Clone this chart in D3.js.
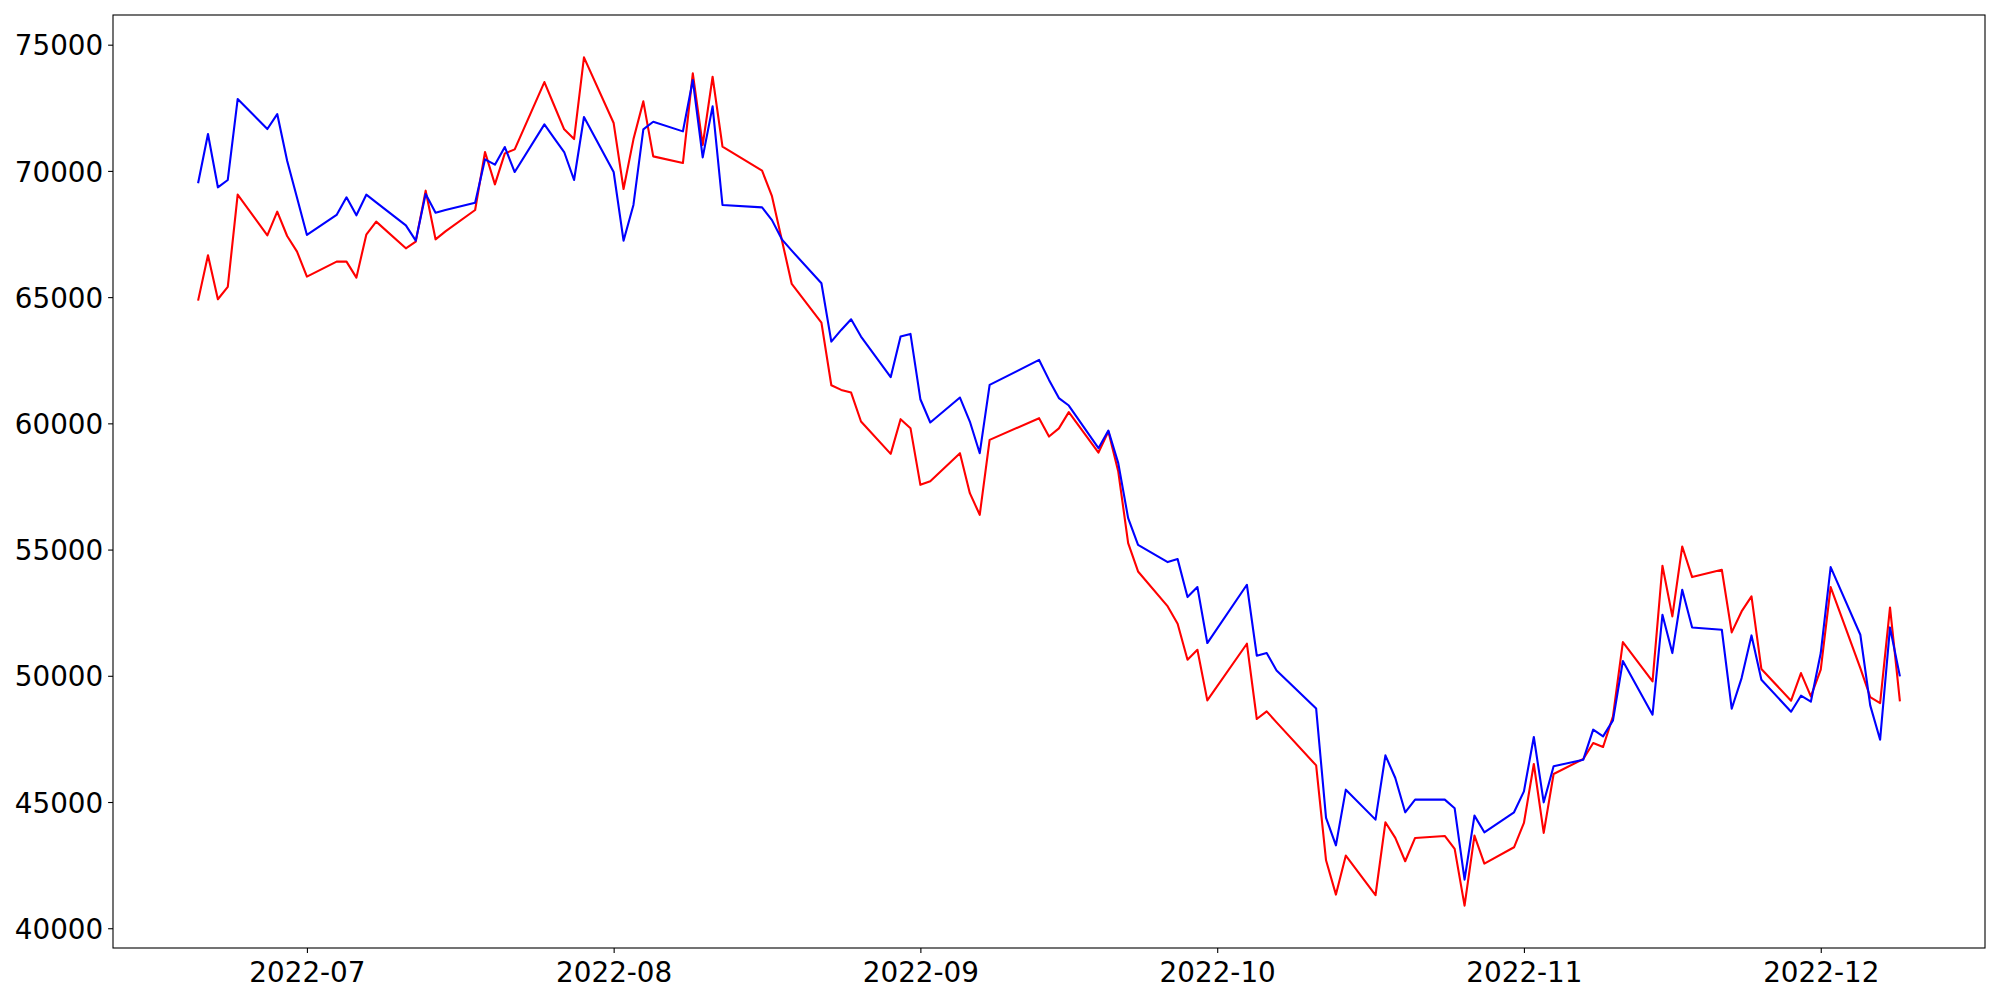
<!DOCTYPE html>
<html>
<head>
<meta charset="utf-8">
<script src="https://cdn.jsdelivr.net/npm/d3@7"></script>
<style>
  html, body { margin: 0; padding: 0; background: #fff; }
  svg { display: block; }
</style>
</head>
<body>
<svg id="chart" width="2000" height="1000"></svg>
<script>
// Trading dates (KRX calendar)
const dates = [
  "2022-06-20","2022-06-21","2022-06-22","2022-06-23","2022-06-24","2022-06-27","2022-06-28","2022-06-29","2022-06-30",
  "2022-07-01","2022-07-04","2022-07-05","2022-07-06","2022-07-07","2022-07-08","2022-07-11","2022-07-12","2022-07-13","2022-07-14","2022-07-15",
  "2022-07-18","2022-07-19","2022-07-20","2022-07-21","2022-07-22","2022-07-25","2022-07-26","2022-07-27","2022-07-28","2022-07-29",
  "2022-08-01","2022-08-02","2022-08-03","2022-08-04","2022-08-05","2022-08-08","2022-08-09","2022-08-10","2022-08-11","2022-08-12",
  "2022-08-16","2022-08-17","2022-08-18","2022-08-19","2022-08-22","2022-08-23","2022-08-24","2022-08-25","2022-08-26","2022-08-29","2022-08-30","2022-08-31",
  "2022-09-01","2022-09-02","2022-09-05","2022-09-06","2022-09-07","2022-09-08","2022-09-13","2022-09-14","2022-09-15","2022-09-16",
  "2022-09-19","2022-09-20","2022-09-21","2022-09-22","2022-09-23","2022-09-26","2022-09-27","2022-09-28","2022-09-29","2022-09-30",
  "2022-10-04","2022-10-05","2022-10-06","2022-10-07","2022-10-11","2022-10-12","2022-10-13","2022-10-14",
  "2022-10-17","2022-10-18","2022-10-19","2022-10-20","2022-10-21","2022-10-24","2022-10-25","2022-10-26","2022-10-27","2022-10-28","2022-10-31",
  "2022-11-01","2022-11-02","2022-11-03","2022-11-04","2022-11-07","2022-11-08","2022-11-09","2022-11-10","2022-11-11",
  "2022-11-14","2022-11-15","2022-11-16","2022-11-17","2022-11-18","2022-11-21","2022-11-22","2022-11-23","2022-11-24","2022-11-25",
  "2022-11-28","2022-11-29","2022-11-30","2022-12-01","2022-12-02","2022-12-05","2022-12-06","2022-12-07","2022-12-08","2022-12-09"
];

// Blue series
const blueValues = [
  69509, 71461, 69350, 69640, 72846, 71659, 72252, 70404, 68939,
  67462, 68254, 68954, 68241, 69058, 68756, 67845, 67237, 69085, 68346, 68452,
  68742, 70458, 70246, 70946, 69956, 71844, 71289, 70748, 69639, 72134,
  69956, 67237, 68650, 71646, 71949, 71566, 73599, 70537, 72556, 68650,
  68557, 68050, 67290, 66841, 65548, 63239, 63701, 64123, 63437, 61827, 63437, 63543,
  60956, 60033, 61022, 60072, 58818, 61523, 62513, 61721, 61000, 60706,
  59017, 59715, 58423, 56245, 55189, 54503, 54622, 53117, 53513, 51297,
  53606, 50795, 50900, 50213, 48700, 44369, 43285, 45489,
  44302, 46849, 45952, 44592, 45094, 45094, 44751, 41926, 44460, 43801, 44592,
  45423, 47575, 44988, 46413, 46677, 47865, 47601, 48234, 50584,
  48459, 52418, 50900, 53408, 51916, 51824, 48696, 49910, 51599, 49844,
  48577, 49211, 48973, 50900, 54306, 51626, 48828, 47469, 51916, 49976
];

// Red series
const redValues = [
  64862, 66657, 64915, 65403, 69059, 67449, 68386, 67422, 66802,
  65812, 66406, 66406, 65773, 67475, 67990, 66934, 67198, 69217, 67290, 67607,
  68452, 70748, 69468, 70695, 70854, 73519, 72582, 71646, 71263, 74496,
  71896, 69283, 71250, 72754, 70576, 70312, 73862, 71025, 73730, 70959,
  70009, 69000, 67264, 65522, 63991, 61510, 61325, 61220, 60072, 58792, 60165, 59809,
  57565, 57710, 58818, 57235, 56377, 59346, 60204, 59478, 59800, 60443,
  58843, 59676, 58092, 55255, 54133, 52748, 52062, 50636, 51032, 49026,
  51270, 48288, 48590, 48155, 46450, 42691, 41333, 42878,
  41307, 44197, 43577, 42653, 43577, 43656, 43141, 40897, 43669, 42560, 43207,
  44170, 46506, 43775, 46110, 46704, 47338, 47179, 48392, 51336,
  49777, 54358, 52352, 55123, 53910, 54200, 51718, 52549, 53143, 50268,
  49013, 50109, 49185, 50240, 53514, 50307, 49159, 48921, 52707, 48986
];

const yTickValues = [40000, 45000, 50000, 55000, 60000, 65000, 70000, 75000];

// ---- layout ----
const W = 2000, H = 1000;
const margin = { left: 113, top: 15, right: 15, bottom: 52 };
const x0 = margin.left, x1 = W - margin.right;
const y0 = margin.top, y1 = H - margin.bottom;
const fontSize = 27.8;
const tickLen = 4.9, tickPad = 4.9;

const parse = d3.timeParse("%Y-%m-%d");
const times = dates.map(parse);

// matplotlib-like 5% margins
const tExt = d3.extent(times);
const tPad = (tExt[1] - tExt[0]) * 0.05;
const x = d3.scaleTime()
  .domain([new Date(+tExt[0] - tPad), new Date(+tExt[1] + tPad)])
  .range([x0, x1]);

const allV = blueValues.concat(redValues);
const vExt = d3.extent(allV);
const vPad = (vExt[1] - vExt[0]) * 0.05;
const y = d3.scaleLinear()
  .domain([vExt[0] - vPad, vExt[1] + vPad])
  .range([y1, y0]);

const svg = d3.select("#chart");
svg.append("rect").attr("width", W).attr("height", H).attr("fill", "#fff");

const line = d3.line()
  .x((d, i) => x(times[i]))
  .y(d => y(d));

const plot = svg.append("g");
plot.append("path").datum(redValues)
  .attr("d", line).attr("fill", "none")
  .attr("stroke", "#ff0000").attr("stroke-width", 2.1)
  .attr("stroke-linejoin", "round").attr("stroke-linecap", "butt");
plot.append("path").datum(blueValues)
  .attr("d", line).attr("fill", "none")
  .attr("stroke", "#0000ff").attr("stroke-width", 2.1)
  .attr("stroke-linejoin", "round").attr("stroke-linecap", "butt");

// X axis
const xAxis = d3.axisBottom(x)
  .ticks(d3.timeMonth.every(1))
  .tickFormat(d3.timeFormat("%Y-%m"))
  .tickSize(tickLen).tickSizeOuter(0).tickPadding(tickPad);
const gx = svg.append("g").attr("transform", `translate(0,${y1})`).call(xAxis);
gx.select(".domain").remove();
gx.selectAll(".tick line").attr("stroke", "#000").attr("stroke-width", 1.1);
gx.selectAll(".tick text")
  .attr("font-family", "DejaVu Sans").attr("font-size", fontSize)
  .attr("fill", "#000").attr("dy", null).attr("y", null)
  .attr("dominant-baseline", "auto")
  .attr("transform", `translate(0,${tickLen + tickPad + fontSize * 0.86})`);

// Y axis
const yAxis = d3.axisLeft(y)
  .tickValues(yTickValues)
  .tickFormat(d3.format("d"))
  .tickSize(tickLen).tickSizeOuter(0).tickPadding(tickPad);
const gy = svg.append("g").attr("transform", `translate(${x0},0)`).call(yAxis);
gy.select(".domain").remove();
gy.selectAll(".tick line").attr("stroke", "#000").attr("stroke-width", 1.1);
gy.selectAll(".tick text")
  .attr("font-family", "DejaVu Sans").attr("font-size", fontSize)
  .attr("fill", "#000").attr("dy", null)
  .attr("dominant-baseline", "auto")
  .attr("transform", `translate(0,${fontSize * 0.3645})`);

// Frame
svg.append("rect")
  .attr("x", x0).attr("y", y0)
  .attr("width", x1 - x0).attr("height", y1 - y0)
  .attr("fill", "none").attr("stroke", "#000").attr("stroke-width", 1.1);
</script>
</body>
</html>
